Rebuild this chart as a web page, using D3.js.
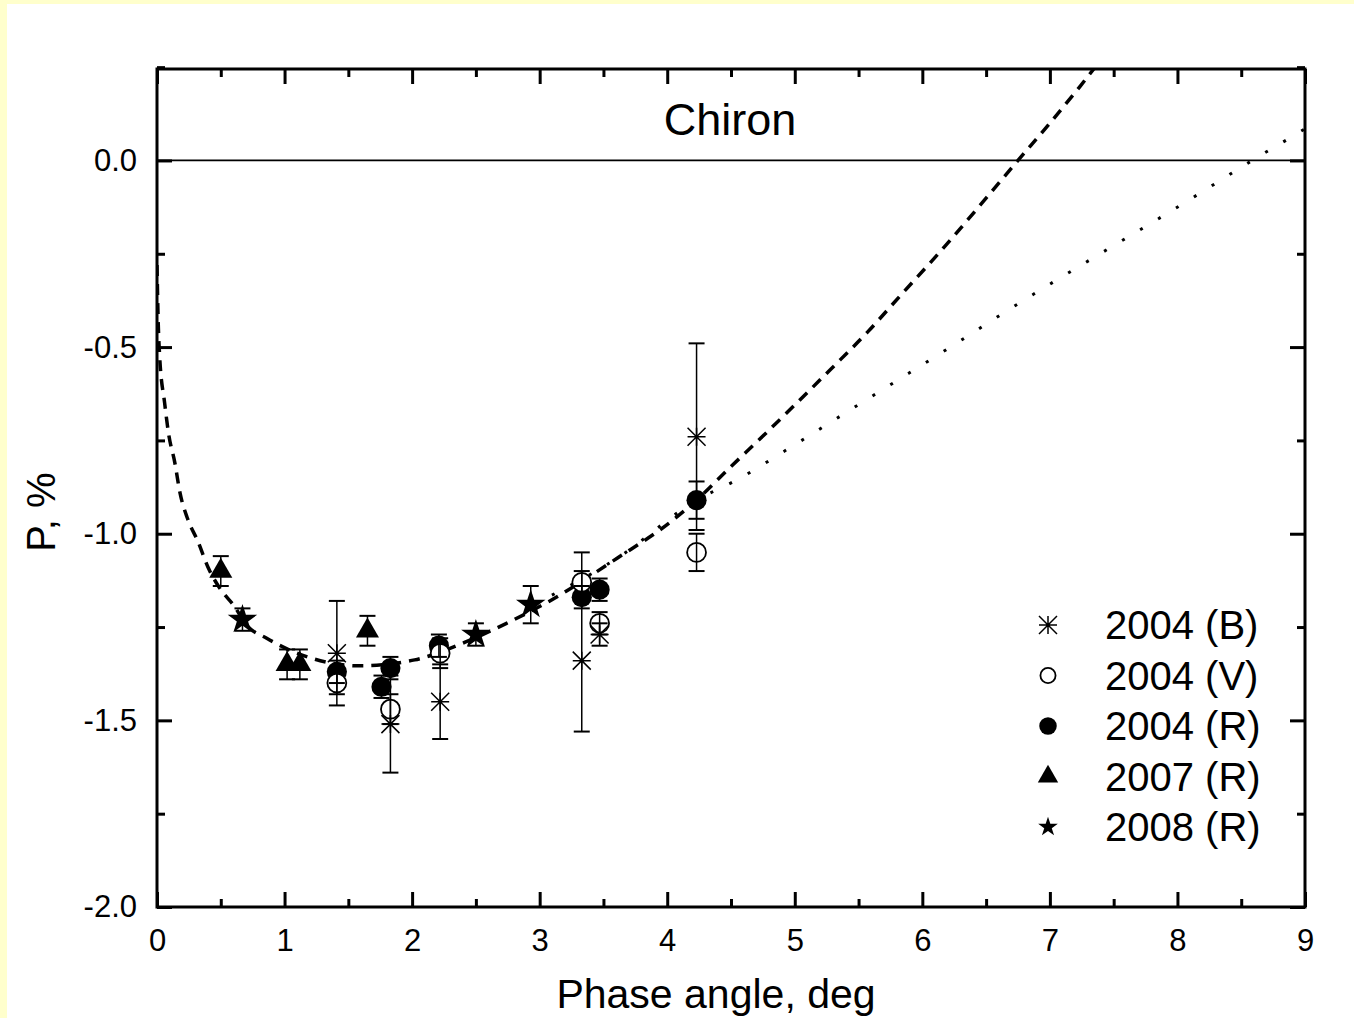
<!DOCTYPE html>
<html>
<head>
<meta charset="utf-8">
<script src="https://cdn.jsdelivr.net/npm/d3@7"></script>
<style>
  body { margin: 0; background: #FFFFCC; }
  svg { display: block; font-family: "Liberation Sans", Arial, sans-serif; }
</style>
</head>
<body>
<svg id="chart" width="1354" height="1018"></svg>
<script>
// 2004 (B) - asterisks
const bX = [1.41, 1.83, 2.22, 3.33, 3.47, 4.23];
const bY = [-1.32, -1.51, -1.45, -1.34, -1.27, -0.74];
const bErrUp = [0.14, 0.13, 0.10, 0.29, 0.03, 0.25];
const bErrDn = [0.14, 0.13, 0.10, 0.19, 0.03, 0.25];

// 2004 (V) - open circles
const vX = [1.41, 1.83, 2.22, 3.33, 3.47, 4.23];
const vY = [-1.40, -1.47, -1.32, -1.13, -1.24, -1.05];
const vErr = [0.03, 0.04, 0.04, 0.03, 0.03, 0.05];

// 2004 (R) - filled circles
const rX = [1.41, 1.76, 1.83, 2.21, 3.33, 3.47, 4.23];
const rY = [-1.37, -1.41, -1.36, -1.30, -1.17, -1.15, -0.91];
const rErr = [0.03, 0.03, 0.03, 0.03, 0.03, 0.03, 0.05];

// 2007 (R) - triangles
const r07X = [0.50, 1.02, 1.12, 1.65];
const r07Y = [-1.10, -1.35, -1.35, -1.26];
const r07Err = [0.04, 0.04, 0.04, 0.04];

// 2008 (R) - stars
const r08X = [0.67, 2.50, 2.93];
const r08Y = [-1.23, -1.27, -1.19];
const r08Err = [0.03, 0.03, 0.05];

// fit curves
const dashX = [0.00, 0.01, 0.02, 0.06, 0.09, 0.14, 0.18, 0.24, 0.32, 0.40, 0.49, 0.61, 0.70, 0.86, 1.18, 1.59, 2.02, 2.42, 2.74, 3.08, 3.61, 4.02, 4.23, 4.50, 4.73, 5.00, 5.28, 5.57, 5.82, 6.19, 6.51, 6.75, 7.00, 7.24, 7.40];
const dashY = [-0.28, -0.44, -0.52, -0.65, -0.73, -0.81, -0.89, -0.96, -1.02, -1.09, -1.145, -1.196, -1.244, -1.28, -1.33, -1.354, -1.338, -1.29, -1.24, -1.18, -1.065, -0.97, -0.91, -0.82, -0.745, -0.655, -0.56, -0.46, -0.365, -0.225, -0.097, 0.0, 0.10, 0.20, 0.27];
const dotX = [2.95, 3.61, 4.23, 4.55, 4.96, 5.38, 5.80, 6.22, 6.63, 8.18, 8.60, 8.88, 9.00];
const dotY = [-1.19, -1.065, -0.91, -0.855, -0.77, -0.68, -0.59, -0.50, -0.41, -0.087, 0.003, 0.06, 0.085];

const legendLabels = ["2004 (B)", "2004 (V)", "2004 (R)", "2007 (R)", "2008 (R)"];
const xTicks = [0, 1, 2, 3, 4, 5, 6, 7, 8, 9];
const yTicks = [0.0, -0.5, -1.0, -1.5, -2.0];

const svg = d3.select("#chart");
const pLeft = 157, pRight = 1305, pTop = 69, pBottom = 907;

svg.append("rect").attr("x", 7).attr("y", 4).attr("width", 1354).attr("height", 1018).attr("fill", "#fff");

const x = d3.scaleLinear().domain([0, 9]).range([pLeft, pRight]);
const y = d3.scaleLinear().domain([-2.0, 0.245]).range([pBottom, pTop]);

// zero line
svg.append("line")
    .attr("x1", pLeft).attr("x2", pRight)
    .attr("y1", y(0)).attr("y2", y(0))
    .attr("stroke", "#000").attr("stroke-width", 1.8);

// curves
svg.append("clipPath").attr("id", "clip").append("rect")
    .attr("x", pLeft).attr("y", pTop).attr("width", pRight - pLeft).attr("height", pBottom - pTop);
const plot = svg.append("g").attr("clip-path", "url(#clip)");

const line = d3.line().x(d => x(d[0])).y(d => y(d[1])).curve(d3.curveMonotoneX);
plot.append("path")
    .attr("d", line(dashX.map((v, i) => [v, dashY[i]])))
    .attr("fill", "none").attr("stroke", "#000")
    .attr("stroke-width", 3.5).attr("stroke-dasharray", "11,8");
plot.append("path")
    .attr("d", line(dotX.map((v, i) => [v, dotY[i]])))
    .attr("fill", "none").attr("stroke", "#000")
    .attr("stroke-width", 3).attr("stroke-dasharray", "3,18");

// markers
function asterisk(h) {
    return `M${-h},0H${h}M0,${-h}V${h}M${-h},${-h}L${h},${h}M${-h},${h}L${h},${-h}`;
}
const shapes = {
    B: { path: asterisk(9), fill: "none", stroke: "#000", sw: 1.5 },
    V: { path: d3.symbol(d3.symbolCircle, 280)(), fill: "#fff", stroke: "#000", sw: 1.8 },
    R: { path: d3.symbol(d3.symbolCircle, 320)(), fill: "#000", stroke: "none", sw: 0 },
    T: { path: d3.symbol(d3.symbolTriangle, 230)(), fill: "#000", stroke: "none", sw: 0 },
    S: { path: d3.symbol(d3.symbolStar, 270)(), fill: "#000", stroke: "none", sw: 0 }
};
const legendShapes = [
    { path: asterisk(9), fill: "none", stroke: "#000", sw: 1.5 },
    { path: d3.symbol(d3.symbolCircle, 180)(), fill: "#fff", stroke: "#000", sw: 1.8 },
    { path: d3.symbol(d3.symbolCircle, 240)(), fill: "#000", stroke: "none", sw: 0 },
    { path: d3.symbol(d3.symbolTriangle, 180)(), fill: "#000", stroke: "none", sw: 0 },
    { path: d3.symbol(d3.symbolStar, 120)(), fill: "#000", stroke: "none", sw: 0 }
];

const series = [
    { s: shapes.R, xs: rX, ys: rY, up: rErr, dn: rErr },
    { s: shapes.V, xs: vX, ys: vY, up: vErr, dn: vErr },
    { s: shapes.B, xs: bX, ys: bY, up: bErrUp, dn: bErrDn },
    { s: shapes.T, xs: r07X, ys: r07Y, up: r07Err, dn: r07Err },
    { s: shapes.S, xs: r08X, ys: r08Y, up: r08Err, dn: r08Err }
];

series.forEach(ser => {
    svg.append("g").selectAll("path")
        .data(ser.xs.map((v, i) => [v, ser.ys[i]]))
        .enter().append("path")
        .attr("d", ser.s.path)
        .attr("transform", d => `translate(${x(d[0])},${y(d[1])})`)
        .attr("fill", ser.s.fill)
        .attr("stroke", ser.s.stroke)
        .attr("stroke-width", ser.s.sw);
});

// error bars on top
series.forEach(ser => {
    const g = svg.append("g").attr("stroke", "#000");
    ser.xs.forEach((v, i) => {
        const cx = x(v), y1 = y(ser.ys[i] + ser.up[i]), y2 = y(ser.ys[i] - ser.dn[i]);
        g.append("line").attr("x1", cx).attr("x2", cx).attr("y1", y1).attr("y2", y2).attr("stroke-width", 1.5);
        g.append("line").attr("x1", cx - 8).attr("x2", cx + 8).attr("y1", y1).attr("y2", y1).attr("stroke-width", 2);
        g.append("line").attr("x1", cx - 8).attr("x2", cx + 8).attr("y1", y2).attr("y2", y2).attr("stroke-width", 2);
    });
});

// axes, ticks pointing inward
function styleAxis(g) {
    g.select(".domain").remove();
    g.selectAll(".tick line").attr("stroke", "#000").attr("stroke-width", 3);
    g.selectAll(".tick text").attr("fill", "#000").attr("font-size", 31)
        .attr("font-family", "Liberation Sans, Arial, sans-serif");
}
const xMinor = d3.range(0.5, 9, 1);
const yMinor = [0.25, -0.25, -0.75, -1.25, -1.75];

svg.append("g").attr("transform", `translate(0,${pBottom})`)
    .call(d3.axisBottom(x).tickValues(xTicks).tickSizeInner(-15).tickSizeOuter(0).tickPadding(22).tickFormat(d3.format("d")))
    .call(styleAxis);
svg.append("g").attr("transform", `translate(0,${pBottom})`)
    .call(d3.axisBottom(x).tickValues(xMinor).tickSizeInner(-8).tickSizeOuter(0).tickFormat(""))
    .call(styleAxis);
svg.append("g").attr("transform", `translate(0,${pTop})`)
    .call(d3.axisTop(x).tickValues(xTicks).tickSizeInner(-15).tickSizeOuter(0).tickFormat(""))
    .call(styleAxis);
svg.append("g").attr("transform", `translate(0,${pTop})`)
    .call(d3.axisTop(x).tickValues(xMinor).tickSizeInner(-8).tickSizeOuter(0).tickFormat(""))
    .call(styleAxis);

svg.append("g").attr("transform", `translate(${pLeft},0)`)
    .call(d3.axisLeft(y).tickValues(yTicks).tickSizeInner(-15).tickSizeOuter(0).tickPadding(20).tickFormat(d => d.toFixed(1)))
    .call(styleAxis);
svg.append("g").attr("transform", `translate(${pLeft},0)`)
    .call(d3.axisLeft(y).tickValues(yMinor).tickSizeInner(-8).tickSizeOuter(0).tickFormat(""))
    .call(styleAxis);
svg.append("g").attr("transform", `translate(${pRight},0)`)
    .call(d3.axisRight(y).tickValues(yTicks).tickSizeInner(-15).tickSizeOuter(0).tickFormat(""))
    .call(styleAxis);
svg.append("g").attr("transform", `translate(${pRight},0)`)
    .call(d3.axisRight(y).tickValues(yMinor).tickSizeInner(-8).tickSizeOuter(0).tickFormat(""))
    .call(styleAxis);

// frame
svg.append("rect")
    .attr("x", pLeft).attr("y", pTop).attr("width", pRight - pLeft).attr("height", pBottom - pTop)
    .attr("fill", "none").attr("stroke", "#000").attr("stroke-width", 3);

// titles
svg.append("text").attr("x", 730).attr("y", 135).attr("text-anchor", "middle")
    .attr("font-size", 45).text("Chiron");
svg.append("text").attr("x", 716).attr("y", 1008).attr("text-anchor", "middle")
    .attr("font-size", 41).text("Phase angle, deg");
svg.append("text").attr("transform", "translate(55,512) rotate(-90)").attr("text-anchor", "middle")
    .attr("font-size", 40).text("P, %");

// legend
const leg = svg.append("g");
legendLabels.forEach((lab, i) => {
    const cy = 625 + i * 50.5;
    const s = legendShapes[i];
    leg.append("path").attr("d", s.path).attr("transform", `translate(1048,${cy})`)
        .attr("fill", s.fill).attr("stroke", s.stroke).attr("stroke-width", s.sw);
    leg.append("text").attr("x", 1105).attr("y", cy + 14).attr("font-size", 40).text(lab);
});
</script>
</body>
</html>
